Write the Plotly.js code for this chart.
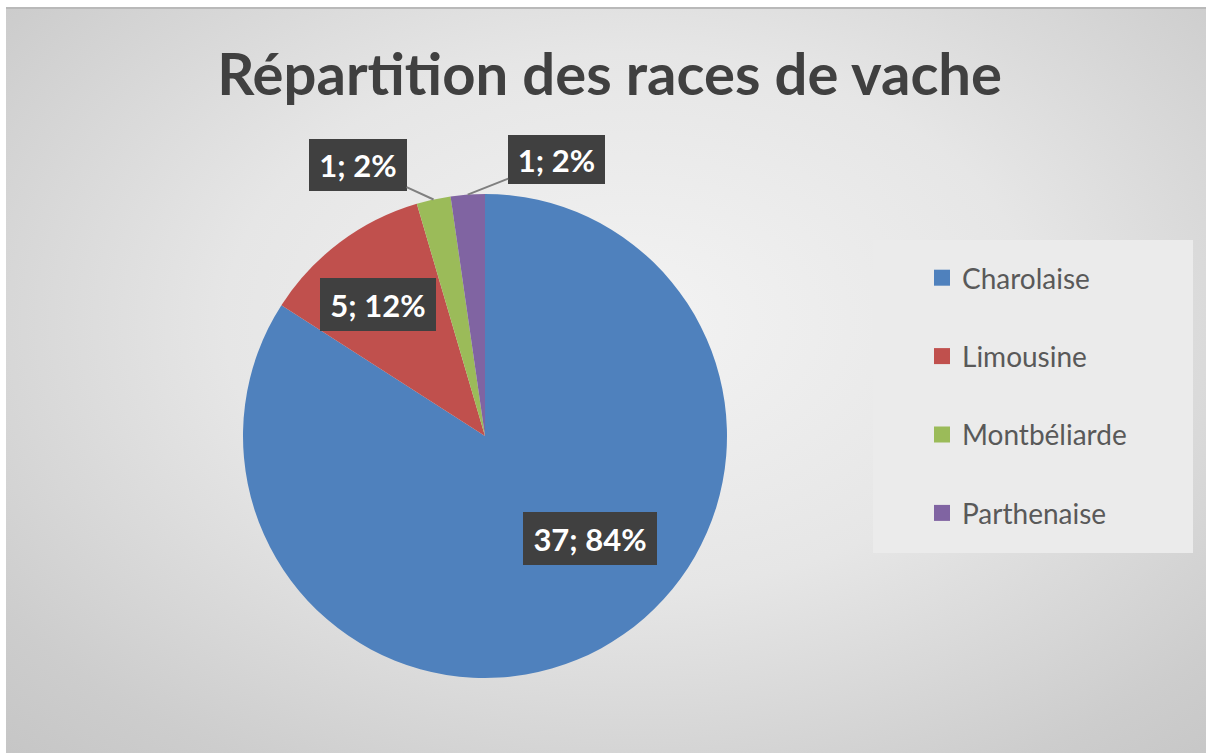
<!DOCTYPE html>
<html>
<head>
<meta charset="utf-8">
<script src="https://cdn.plot.ly/plotly-3.0.1.min.js"></script>
<style>
  html, body { margin: 0; padding: 0; background: #ffffff; }
  #bg {
    position: absolute; left: 6px; top: 7px; width: 1200px; height: 746px;
    background: radial-gradient(ellipse 75% 80% at 52% 42%, #f3f3f3 0%, #e6e6e6 45%, #cdcdcd 85%, #c6c6c6 100%);
    border-top: 2px solid #b9b9b9;
    box-sizing: border-box;
  }
  #chart { position: absolute; left: 0; top: 0; width: 1206px; height: 753px; }
</style>
</head>
<body>
<div id="bg"></div>
<div id="chart"></div>
<script>
// ---- data ----
const categories = ['Charolaise', 'Limousine', 'Montbéliarde', 'Parthenaise'];
const values = [37, 5, 1, 1];
const pctLabels = ['84%', '12%', '2%', '2%'];
const colors = ['#4f81bd', '#c0504d', '#9bbb59', '#8064a2'];
const titleText = 'Répartition des races de vache';

// ---- layout geometry (styling) ----
const W = 1206, H = 753;
const pieDomain = { x: [243 / W, 727 / W], y: [1 - 678 / H, 1 - 194 / H] };
const R = 242; // px radius implied by the domain
const cx = (pieDomain.x[0] + pieDomain.x[1]) / 2;
const cy = (pieDomain.y[0] + pieDomain.y[1]) / 2;

// label placement styles per slice: radial fraction + shifts / leader offsets
const labelStyle = [
  { f: 0.5, xshift: 47, yshift: 4, w: 134, h: 53 },
  { f: 0.65, xshift: -13, yshift: 6, w: 116, h: 53 },
  { f: 1.0, ax: -76, ay: -35, w: 98, h: 52 },
  { f: 1.0, ax: 89, ay: -35, w: 97, h: 49 }
];

const total = values.reduce((a, b) => a + b, 0);
let cum = 0;
const annotations = values.map((v, i) => {
  const mid = (cum + v / 2) / total * 2 * Math.PI; // clockwise from 12 o'clock
  cum += v;
  const s = labelStyle[i];
  const px = cx + Math.sin(mid) * R * s.f / W;
  const py = cy + Math.cos(mid) * R * s.f / H;
  const a = {
    x: px, y: py, xref: 'paper', yref: 'paper',
    xanchor: 'center', yanchor: 'middle',
    text: '<b>' + values[i] + '; ' + pctLabels[i] + '</b>',
    font: { family: 'Lato, sans-serif', size: 31, color: '#ffffff' },
    bgcolor: '#404040', borderpad: 0, borderwidth: 0,
    width: s.w, height: s.h, align: 'center', valign: 'middle'
  };
  if (s.ax !== undefined) {
    Object.assign(a, { showarrow: true, ax: s.ax, ay: s.ay, arrowhead: 0,
      arrowwidth: 2, arrowcolor: '#7f7f7f', standoff: 0 });
  } else {
    Object.assign(a, { showarrow: false, xshift: s.xshift, yshift: s.yshift });
  }
  return a;
});

const pie = {
  type: 'pie',
  labels: categories,
  values: values,
  sort: false,
  direction: 'clockwise',
  rotation: 0,
  marker: { colors: colors, line: { width: 0 } },
  textinfo: 'none',
  hoverinfo: 'label+value+percent',
  domain: pieDomain,
  showlegend: false
};

// legend entries (one per category)
const legendTraces = categories.map((c, i) => ({
  type: 'scatter', mode: 'markers', x: [null], y: [null],
  name: c, legendgroup: 'g' + i,
  marker: { symbol: 'square', size: 16, color: colors[i] },
  hoverinfo: 'skip', showlegend: true
}));

const layout = {
  width: W, height: H,
  margin: { l: 0, r: 0, t: 0, b: 0 },
  paper_bgcolor: 'rgba(0,0,0,0)',
  plot_bgcolor: 'rgba(0,0,0,0)',
  title: {
    text: '<b>' + titleText + '</b>',
    font: { family: 'Lato, sans-serif', size: 58, color: '#404040' },
    x: 0.5055, xanchor: 'center', y: 1 - 75 / H, yanchor: 'middle'
  },
  xaxis: { visible: false, domain: [0.999, 1] },
  yaxis: { visible: false, domain: [0.999, 1] },
  showlegend: true,
  legend: {
    x: 922 / W, xanchor: 'left', y: 1 - 253 / H, yanchor: 'top',
    bgcolor: 'rgba(0,0,0,0)', borderwidth: 0,
    font: { family: 'Lato, sans-serif', size: 28, color: '#595959' },
    tracegroupgap: 39, itemclick: false, itemdoubleclick: false
  },
  shapes: [{
    type: 'rect', xref: 'paper', yref: 'paper', layer: 'below',
    x0: 873 / W, x1: 1193 / W, y0: 1 - 553 / H, y1: 1 - 240 / H,
    fillcolor: '#ebebeb', line: { width: 0 }
  }],
  annotations: annotations
};

Plotly.newPlot('chart', [pie].concat(legendTraces), layout, { displayModeBar: false, staticPlot: false });
</script>
</body>
</html>
